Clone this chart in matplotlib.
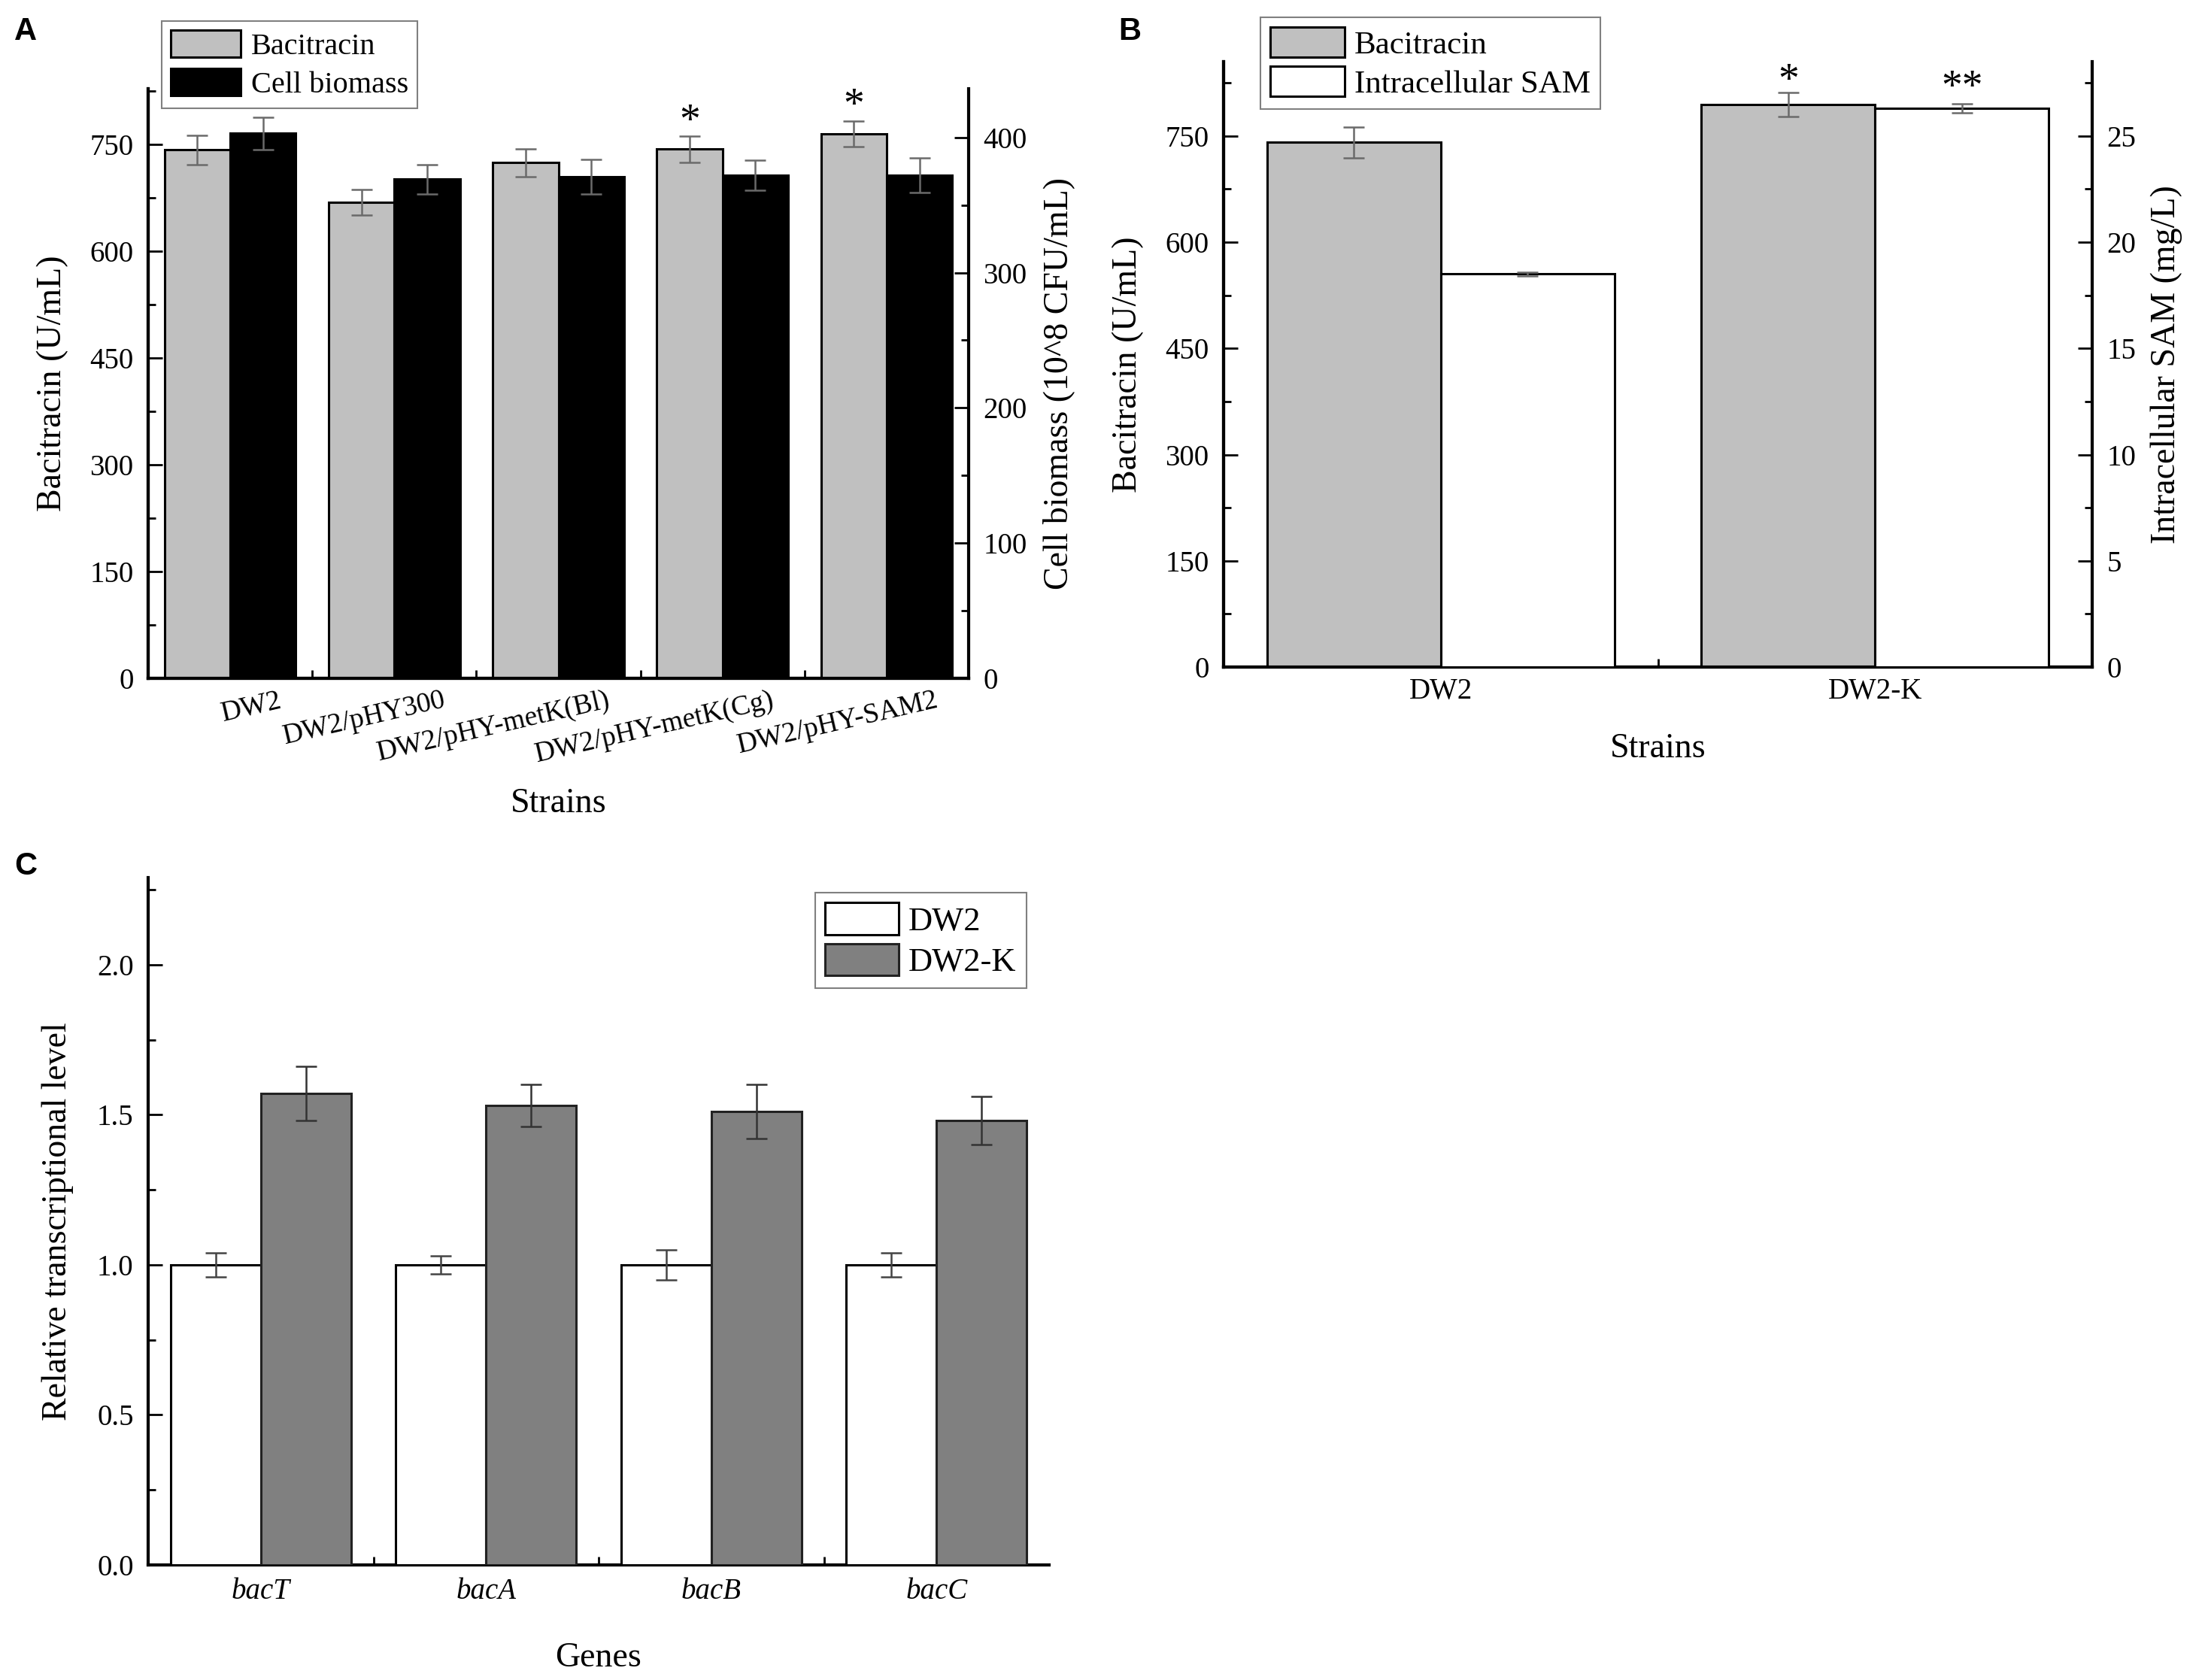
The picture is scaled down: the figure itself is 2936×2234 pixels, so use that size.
import matplotlib
matplotlib.use('Agg')
import matplotlib.pyplot as plt
import matplotlib.transforms as mtransforms
from matplotlib.patches import Patch
from matplotlib.ticker import MultipleLocator
import numpy as np

plt.rcParams['font.family'] = ['Liberation Serif', 'DejaVu Serif']

# ---- data: panel A ----
strains_a = ['DW2', 'DW2/pHY300', 'DW2/pHY-metK(Bl)', 'DW2/pHY-metK(Cg)', 'DW2/pHY-SAM2']
bac_a = [742, 669, 724, 743, 765]
bac_a_err = [21, 18, 20, 18, 18]
bio_a = [403, 369, 371, 372, 372]
bio_a_err = [12, 11, 13, 11, 13]
stars_a = ['', '', '', '*', '*']

# ---- data: panel B ----
strains_b = ['DW2', 'DW2-K']
bac_b = [741, 794]
bac_b_err = [22, 17]
sam_b = [18.5, 26.3]
sam_b_err = [0.1, 0.2]
stars_b_bac = ['', '*']
stars_b_sam = ['', '**']

# ---- data: panel C ----
genes = ['bacT', 'bacA', 'bacB', 'bacC']
dw2_c = [1.0, 1.0, 1.0, 1.0]
dw2_c_err = [0.04, 0.03, 0.05, 0.04]
dw2k_c = [1.57, 1.53, 1.51, 1.48]
dw2k_c_err = [0.09, 0.07, 0.09, 0.08]

W, H = 2936, 2234
fig = plt.figure(figsize=(W / 100, H / 100), dpi=100)

LIGHT = '#c0c0c0'
DARK = '#808080'
ERR = '#6a6a6a'
TICK = 28
LAB = 33
BW = 0.4


def frac(x0, y0, x1, y1):
    # pixel box -> figure fraction rect
    return [x0 / W, 1 - y1 / H, (x1 - x0) / W, (y1 - y0) / H]


def style(ax, right=False):
    ax.tick_params(which='both', direction='in', width=2, labelsize=TICK, pad=14)
    ax.tick_params(which='major', length=14)
    ax.tick_params(which='minor', length=7)
    for s in ax.spines.values():
        s.set_linewidth(3)
    ax.spines['top'].set_visible(False)


def cat_axis(ax, n, labels, pad=10, **kw):
    ax.set_xlim(0, n)
    ax.set_xticks(np.arange(1, n))
    ax.set_xticklabels([])
    ax.set_xticks(np.arange(n) + 0.5, minor=True)
    ax.set_xticklabels(labels, minor=True, **kw)
    ax.tick_params(axis='x', which='major', length=8, width=2)
    ax.tick_params(axis='x', which='minor', length=0, pad=pad, labelsize=TICK)


def errs(ax, x, y, e, color=ERR):
    ax.errorbar(x, y, yerr=e, fmt='none', ecolor=color, elinewidth=1.8,
                capsize=10, capthick=1.8, zorder=5)


def stars(ax, x, y, e, marks, dy=3):
    for xi, yi, ei, m in zip(x, y, e, marks):
        if m:
            ax.annotate(m, xy=(xi, yi + ei), xytext=(0, dy), textcoords='offset points',
                        ha='center', va='baseline', fontsize=40)


# ================= Panel A =================
axA = fig.add_axes(frac(197, 118, 1288, 902))
axA2 = axA.twinx()
x = np.arange(len(strains_a))
axA.bar(x + 0.3, bac_a, BW, color=LIGHT, edgecolor='black', linewidth=2.2, zorder=3)
axA2.bar(x + 0.7, bio_a, BW, color='black', edgecolor='black', linewidth=2.2, zorder=3)
errs(axA, x + 0.3, bac_a, bac_a_err)
errs(axA2, x + 0.7, bio_a, bio_a_err)
stars(axA, x + 0.3, bac_a, bac_a_err, stars_a)
axA.set_ylim(0, 828)
axA2.set_ylim(0, 436)
axA.yaxis.set_major_locator(MultipleLocator(150))
axA.yaxis.set_minor_locator(MultipleLocator(75))
axA2.yaxis.set_major_locator(MultipleLocator(100))
axA2.yaxis.set_minor_locator(MultipleLocator(50))
style(axA)
style(axA2)
axA.spines['right'].set_visible(False)
cat_axis(axA, len(strains_a), ['' for _ in strains_a])
tr = mtransforms.offset_copy(axA.get_xaxis_transform(), fig=fig, x=64, y=-12, units='dots')
for xi, lab in zip(x + 0.5, strains_a):
    axA.text(xi, 0, lab, transform=tr, rotation=13, rotation_mode='anchor',
             ha='right', va='top', fontsize=27)
axA.set_ylabel('Bacitracin (U/mL)', fontsize=LAB)
axA.yaxis.set_label_coords(-0.097, 0.5)
axA2.set_ylabel('Cell biomass (10^8 CFU/mL)', fontsize=LAB)
axA2.yaxis.set_label_coords(1.09, 0.5)
axA.set_xlabel('Strains', fontsize=LAB)
axA.xaxis.set_label_coords(0.5, -0.185)

legA = fig.legend(handles=[Patch(facecolor=LIGHT, edgecolor='black', linewidth=2.2),
                           Patch(facecolor='black', edgecolor='black', linewidth=2.2)],
                  labels=['Bacitracin', 'Cell biomass'], loc='upper left',
                  bbox_to_anchor=(215 / W, 1 - 28 / H), borderaxespad=0, fontsize=29,
                  handlelength=2.3, handleheight=1.0, handletextpad=0.35, labelspacing=0.25,
                  borderpad=0.3, fancybox=False, framealpha=1, edgecolor='#808080')
legA.get_frame().set_linewidth(1.5)

# ================= Panel B =================
axB = fig.add_axes(frac(1627, 82, 2782, 887))
axB2 = axB.twinx()
xb = np.arange(len(strains_b))
axB.bar(xb + 0.3, bac_b, BW, color=LIGHT, edgecolor='black', linewidth=2.2, zorder=3)
axB2.bar(xb + 0.7, sam_b, BW, color='white', edgecolor='black', linewidth=2.2, zorder=3)
errs(axB, xb + 0.3, bac_b, bac_b_err)
errs(axB2, xb + 0.7, sam_b, sam_b_err)
stars(axB, xb + 0.3, bac_b, bac_b_err, stars_b_bac, dy=0)
stars(axB2, xb + 0.7, sam_b, sam_b_err, stars_b_sam, dy=5)
axB.set_ylim(0, 855)
axB2.set_ylim(0, 28.5)
axB.yaxis.set_major_locator(MultipleLocator(150))
axB.yaxis.set_minor_locator(MultipleLocator(75))
axB2.yaxis.set_major_locator(MultipleLocator(5))
axB2.yaxis.set_minor_locator(MultipleLocator(2.5))
style(axB)
style(axB2)
axB.spines['right'].set_visible(False)
cat_axis(axB, len(strains_b), strains_b)
axB.set_ylabel('Bacitracin (U/mL)', fontsize=LAB)
axB.yaxis.set_label_coords(-0.092, 0.5)
axB2.set_ylabel('Intracellular SAM (mg/L)', fontsize=LAB)
axB2.yaxis.set_label_coords(1.067, 0.5)
axB.set_xlabel('Strains', fontsize=LAB)
axB.xaxis.set_label_coords(0.5, -0.109)

legB = fig.legend(handles=[Patch(facecolor=LIGHT, edgecolor='black', linewidth=2.2),
                           Patch(facecolor='white', edgecolor='black', linewidth=2.2)],
                  labels=['Bacitracin', 'Intracellular SAM'], loc='upper left',
                  bbox_to_anchor=(1676 / W, 1 - 23 / H), borderaxespad=0, fontsize=31,
                  handlelength=2.3, handleheight=1.05, handletextpad=0.3, labelspacing=0.2,
                  borderpad=0.3, fancybox=False, framealpha=1, edgecolor='#808080')
legB.get_frame().set_linewidth(1.5)

# ================= Panel C =================
axC = fig.add_axes(frac(197, 1167, 1395, 2081))
xc = np.arange(len(genes))
axC.bar(xc + 0.3, dw2_c, BW, color='white', edgecolor='black', linewidth=2.2, zorder=3, label='DW2')
axC.bar(xc + 0.7, dw2k_c, BW, color=DARK, edgecolor='#222222', linewidth=2.2, zorder=3, label='DW2-K')
errs(axC, xc + 0.3, dw2_c, dw2_c_err, color='#444444')
errs(axC, xc + 0.7, dw2k_c, dw2k_c_err, color='#333333')
axC.set_ylim(0, 2.29)
axC.yaxis.set_major_locator(MultipleLocator(0.5))
axC.yaxis.set_minor_locator(MultipleLocator(0.25))
axC.yaxis.set_major_formatter(matplotlib.ticker.FormatStrFormatter('%.1f'))
style(axC)
axC.spines['right'].set_visible(False)
cat_axis(axC, len(genes), genes, pad=12, style='italic')
axC.set_ylabel('Relative transcriptional level', fontsize=LAB)
axC.yaxis.set_label_coords(-0.083, 0.5)
axC.set_xlabel('Genes', fontsize=LAB)
axC.xaxis.set_label_coords(0.5, -0.112)
legC = axC.legend(loc='upper right', bbox_to_anchor=(0.975, 0.978), borderaxespad=0,
                  fontsize=32, handlelength=2.2, handleheight=1.1, handletextpad=0.3,
                  labelspacing=0.2, borderpad=0.3, fancybox=False, framealpha=1,
                  edgecolor='#808080')
legC.get_frame().set_linewidth(1.5)

# panel letters
for lx, ly, s in [(19, 22, 'A'), (1487, 22, 'B'), (19, 1132, 'C')]:
    fig.text(lx / W, 1 - ly / H, s, family='Liberation Sans', weight='bold',
             fontsize=30, ha='left', va='top')

fig.savefig('out.png', dpi=100, facecolor='white')
